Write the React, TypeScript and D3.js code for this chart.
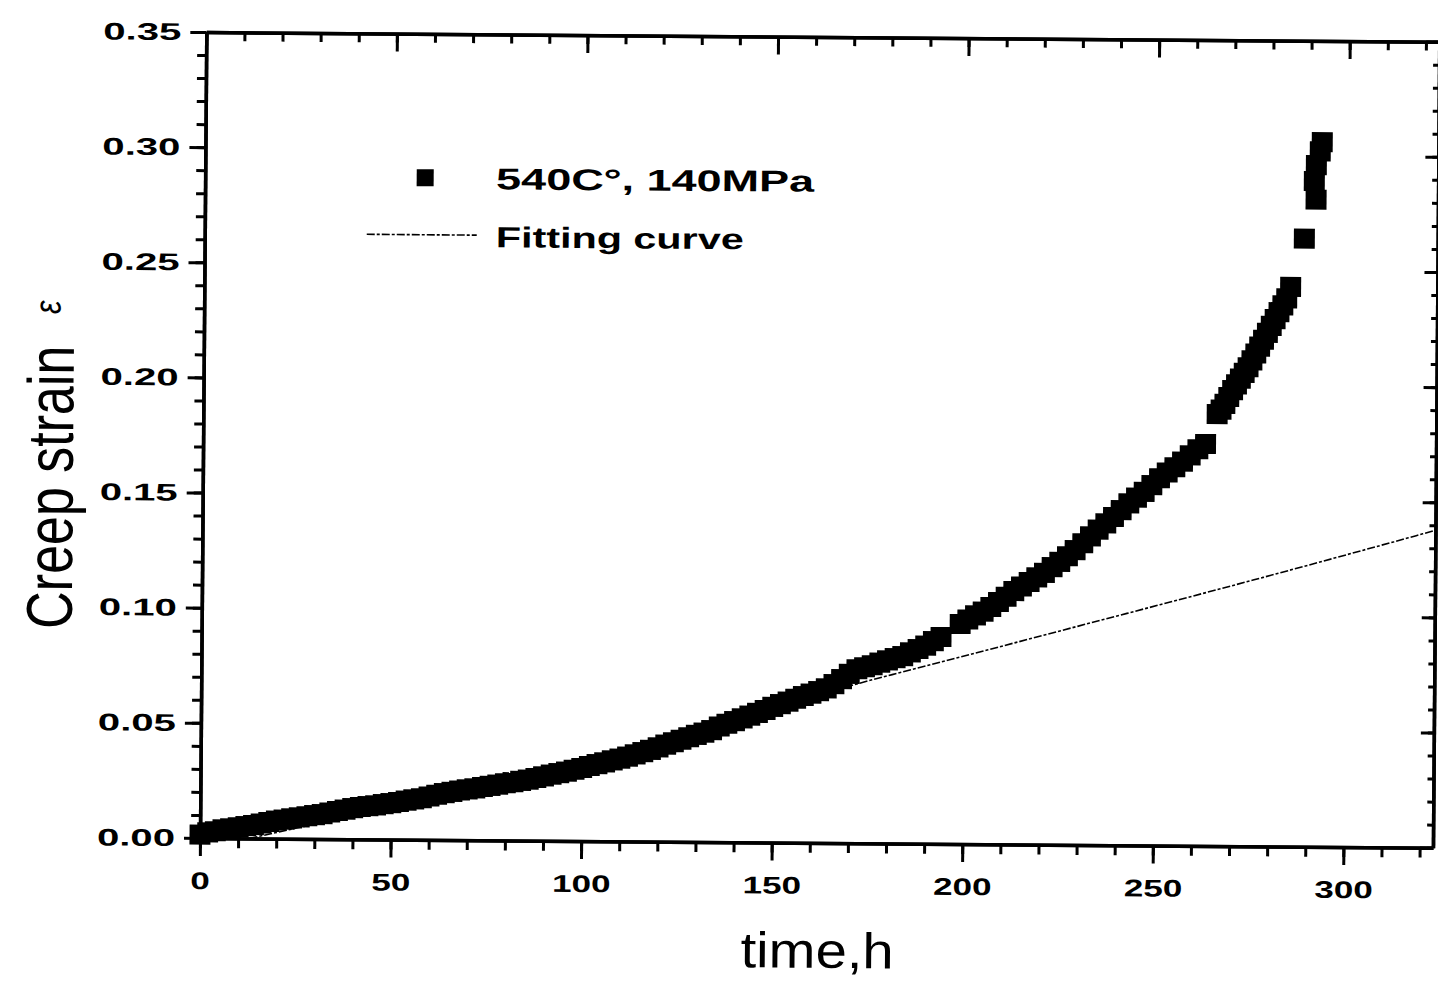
import React, { useRef, useEffect } from "react";
import * as d3 from "d3";

// creep test 540C, 140MPa: [time h, strain]
const creepPoints: [number, number][] = [
  [0, 0.0015], [2, 0.0025], [4, 0.003], [6, 0.0038], [8, 0.0043], [10, 0.0048],
  [12, 0.0053], [14, 0.0058], [16, 0.0065], [18, 0.0072], [20, 0.0078], [22, 0.0083],
  [24, 0.0088], [26, 0.0093], [28, 0.0098], [30, 0.0103], [32, 0.0108], [34, 0.0115],
  [36, 0.0122], [38, 0.0128], [40, 0.0135], [42, 0.014], [44, 0.0144], [46, 0.0148],
  [48, 0.0153], [50, 0.0158], [52, 0.0163], [54, 0.0169], [56, 0.0175], [58, 0.018],
  [60, 0.0188], [62, 0.0196], [64, 0.0203], [66, 0.0209], [68, 0.0215], [70, 0.022],
  [72, 0.0225], [74, 0.0231], [76, 0.0236], [78, 0.0242], [80, 0.0248], [82, 0.0253],
  [84, 0.0259], [86, 0.0265], [88, 0.0272], [90, 0.0279], [92, 0.0287], [94, 0.0294],
  [96, 0.0301], [98, 0.0309], [100, 0.0317], [102, 0.0326], [104, 0.0334], [106, 0.0342],
  [108, 0.0351], [110, 0.0359], [112, 0.0368], [114, 0.0378], [116, 0.0388], [118, 0.0398],
  [120, 0.0409], [122, 0.0421], [124, 0.0432], [126, 0.0443], [128, 0.0454], [130, 0.0465],
  [132, 0.0475], [134, 0.0486], [136, 0.0502], [138, 0.0514], [140, 0.0526], [142, 0.0538],
  [144, 0.055], [146, 0.0562], [148, 0.0575], [150, 0.0589], [152, 0.0601], [154, 0.0612],
  [156, 0.0625], [158, 0.0637], [160, 0.0648], [162, 0.0659], [164, 0.0671], [166, 0.069],
  [168, 0.0712], [170, 0.0735], [172, 0.0755], [174, 0.0764], [176, 0.0773], [178, 0.0785],
  [180, 0.0795], [182, 0.0805], [184, 0.0814], [186, 0.083], [188, 0.0845], [190, 0.086],
  [192, 0.088], [194, 0.0898],
  [199, 0.0955], [201, 0.0975], [203, 0.0993], [205, 0.101], [207, 0.103], [209, 0.1052],
  [211, 0.1075], [213, 0.11], [215, 0.112], [217, 0.114], [219, 0.116], [221, 0.118],
  [223, 0.1205], [225, 0.1228], [227, 0.1253], [229, 0.128], [231, 0.131], [233, 0.134],
  [235, 0.137], [237, 0.1397], [239, 0.1425], [241, 0.1455], [243, 0.1485], [245, 0.151],
  [247, 0.1535], [249, 0.1565], [251, 0.1595], [253, 0.162], [255, 0.1643], [257, 0.1668],
  [259, 0.1695], [261, 0.1722], [263, 0.1745],
  [266, 0.1875], [267, 0.1895], [268, 0.192], [269, 0.195], [270, 0.198], [271, 0.2005],
  [272, 0.203], [273, 0.2055], [274, 0.208], [275, 0.211], [276, 0.214], [277, 0.217],
  [278, 0.22], [279, 0.223], [280, 0.226], [281, 0.229], [282, 0.232], [283, 0.235],
  [284, 0.238], [285, 0.243],
  [288.5, 0.264],
  [291.5, 0.281], [291, 0.289], [291.5, 0.296], [292.5, 0.302], [293, 0.306],
];

// fitting curve
const fitTime = [13, 29, 60, 100, 140, 176, 184, 230, 276, 323.5];
const fitStrain = [0, 0.006, 0.017, 0.033, 0.052, 0.071, 0.0745, 0.095, 0.1157, 0.1378];

const xMajor = [0, 50, 100, 150, 200, 250, 300];
const xMinor = d3.range(0, 321, 10);
const yMajor = [0, 0.05, 0.1, 0.15, 0.2, 0.25, 0.3, 0.35];
const yMinor = d3.range(0, 36).map((i) => i / 100);

const W = 1438;
const H = 983;
const FONT = "'Liberation Sans', Arial, sans-serif";

const CreepChart = () => {
  const ref = useRef<SVGSVGElement>(null);

  useEffect(() => {
    const svg = d3.select(ref.current);
    svg.selectAll("*").remove();

    const x = d3.scaleLinear().domain([0, 323.5]).range([200, 1433]);
    const y = d3.scaleLinear().domain([0, 0.35]).range([838, 32]);

    // scan is slightly tilted
    const g = svg.append("g").attr("transform", "rotate(0.45,200,838)");

    const styleAxis = (sel) => {
      sel.select(".domain").attr("stroke", "#000").attr("stroke-width", 3.5);
      sel.selectAll(".tick line").attr("stroke", "#000").attr("stroke-width", 3);
      sel.selectAll(".tick text")
        .attr("fill", "#000")
        .attr("font-family", FONT)
        .attr("font-weight", "bold")
        .attr("font-size", 24)
        .attr("lengthAdjust", "spacingAndGlyphs")
        .attr("textLength", function () {
          return (this as SVGTextElement).textContent.length * 19.5;
        });
    };

    // fitting curve (under the points)
    const line = d3.line<number>()
      .x((d, i) => x(fitTime[i]))
      .y((d) => y(d))
      .curve(d3.curveMonotoneX);
    g.append("path")
      .attr("d", line(fitStrain))
      .attr("fill", "none")
      .attr("stroke", "#000")
      .attr("stroke-width", 1.6)
      .attr("stroke-dasharray", "8 2 3 2");

    // data points
    g.selectAll("rect.pt")
      .data(creepPoints)
      .enter()
      .append("rect")
      .attr("class", "pt")
      .attr("x", (d) => x(d[0]) - 10.5)
      .attr("y", (d) => y(d[1]) - 10)
      .attr("width", 21)
      .attr("height", 20)
      .attr("fill", "#000");

    // bottom axis
    g.append("g")
      .attr("transform", `translate(0,${y(0)})`)
      .call(d3.axisBottom(x).tickValues(xMinor).tickSize(10).tickSizeOuter(0).tickFormat(() => ""))
      .call(styleAxis);
    g.append("g")
      .attr("transform", `translate(0,${y(0)})`)
      .call(d3.axisBottom(x).tickValues(xMajor).tickSize(18).tickSizeOuter(0).tickPadding(16).tickFormat(d3.format("d")))
      .call(styleAxis);

    // top axis, ticks inward
    g.append("g")
      .attr("transform", `translate(0,${y(0.35)})`)
      .call(d3.axisTop(x).tickValues(xMinor).tickSize(-9).tickSizeOuter(0).tickFormat(() => ""))
      .call(styleAxis);
    g.append("g")
      .attr("transform", `translate(0,${y(0.35)})`)
      .call(d3.axisTop(x).tickValues(xMajor).tickSize(-18).tickSizeOuter(0).tickFormat(() => ""))
      .call(styleAxis);

    // left axis
    g.append("g")
      .attr("transform", `translate(${x(0)},0)`)
      .call(d3.axisLeft(y).tickValues(yMinor).tickSize(9).tickSizeOuter(0).tickFormat(() => ""))
      .call(styleAxis);
    g.append("g")
      .attr("transform", `translate(${x(0)},0)`)
      .call(d3.axisLeft(y).tickValues(yMajor).tickSize(16).tickSizeOuter(0).tickPadding(9).tickFormat(d3.format(".2f")))
      .call(styleAxis);

    // right axis, ticks inward
    g.append("g")
      .attr("transform", `translate(${x(323.5)},0)`)
      .call(d3.axisRight(y).tickValues(yMinor).tickSize(-6).tickSizeOuter(0).tickFormat(() => ""))
      .call(styleAxis);
    g.append("g")
      .attr("transform", `translate(${x(323.5)},0)`)
      .call(d3.axisRight(y).tickValues(yMajor).tickSize(-13).tickSizeOuter(0).tickFormat(() => ""))
      .call(styleAxis);

    // axis titles
    g.append("text")
      .attr("x", 818)
      .attr("y", 963)
      .attr("text-anchor", "middle")
      .attr("font-family", FONT)
      .attr("font-size", 50)
      .attr("lengthAdjust", "spacingAndGlyphs")
      .attr("textLength", 153)
      .text("time,h");

    const yt = g.append("g").attr("transform", "translate(70,630) scale(1.25,1) rotate(-90)");
    yt.append("text")
      .attr("x", 0)
      .attr("y", 0)
      .attr("font-family", FONT)
      .attr("font-size", 52)
      .text("Creep strain");
    yt.append("text")
      .attr("x", 315)
      .attr("y", -11)
      .attr("font-family", FONT)
      .attr("font-style", "italic")
      .attr("font-size", 30)
      .text("ε");

    // legend
    g.append("rect")
      .attr("x", 411.5)
      .attr("y", 167.5)
      .attr("width", 17)
      .attr("height", 17)
      .attr("fill", "#000");
    g.append("text")
      .attr("x", 491)
      .attr("y", 187)
      .attr("font-family", FONT)
      .attr("font-weight", "bold")
      .attr("font-size", 30)
      .attr("lengthAdjust", "spacingAndGlyphs")
      .attr("textLength", 318)
      .text("540C°, 140MPa");
    g.append("line")
      .attr("x1", 362)
      .attr("x2", 472)
      .attr("y1", 233)
      .attr("y2", 233)
      .attr("stroke", "#000")
      .attr("stroke-width", 1.6)
      .attr("stroke-dasharray", "8 2 3 2");
    g.append("text")
      .attr("x", 491)
      .attr("y", 245)
      .attr("font-family", FONT)
      .attr("font-weight", "bold")
      .attr("font-size", 29)
      .attr("lengthAdjust", "spacingAndGlyphs")
      .attr("textLength", 248)
      .text("Fitting curve");
  }, []);

  return (
    <svg
      ref={ref}
      width={W}
      height={H}
      style={{ position: "absolute", left: 0, top: 0, background: "#fff" }}
    />
  );
};

export default function App() {
  return <CreepChart />;
}
